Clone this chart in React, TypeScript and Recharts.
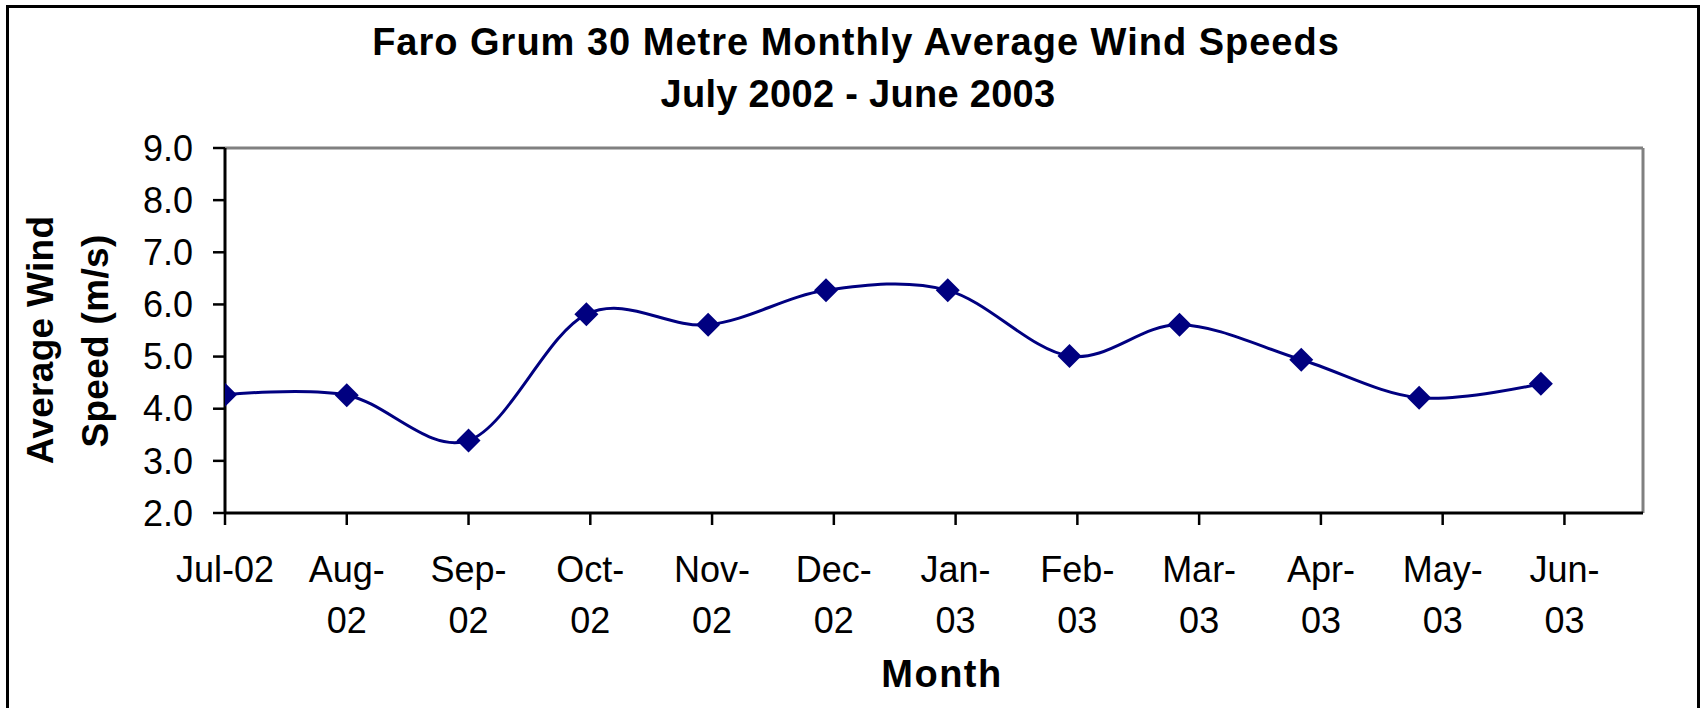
import React from 'react';
import { LineChart, Line, XAxis, YAxis, ReferenceLine } from 'recharts';

// Data: day offset from 1 July 2002 of each monthly average, and the average speed (m/s)
const monthStartDays = [0, 31, 62, 92, 123, 153, 184, 215, 243, 274, 304, 335];
const windSpeeds = [4.27, 4.26, 3.39, 5.81, 5.61, 6.27, 6.27, 5.01, 5.61, 4.94, 4.21, 4.48];

// Axis ticks (date axis with a 31-day major unit)
const tickDays = [0, 31, 62, 93, 124, 155, 186, 217, 248, 279, 310, 341];
const tickLabels = ['Jul-02', 'Aug-02', 'Sep-02', 'Oct-02', 'Nov-02', 'Dec-02', 'Jan-03', 'Feb-03', 'Mar-03', 'Apr-03', 'May-03', 'Jun-03'];
const yTicks = [2, 3, 4, 5, 6, 7, 8, 9];
const xDomain = [0, 361];
const yDomain = [2, 9];

const titleLines = ['Faro Grum 30 Metre Monthly Average Wind Speeds', 'July 2002 - June 2003'];
const yTitleLines = ['Average Wind', 'Speed (m/s)'];
const xTitle = 'Month';

const data = monthStartDays.map((d, i) => ({ day: d, speed: windSpeeds[i] }));

const FONT = '"Liberation Sans", Arial, Helvetica, sans-serif';
const NAVY = '#000080';

// Excel-like smoothing (uniform Catmull-Rom / cardinal spline, tension 0)
function excelSmooth(context: any) {
  const k = 1 / 6;
  let x0 = NaN, y0 = NaN, x1 = NaN, y1 = NaN, x2 = NaN, y2 = NaN;
  let pt = 0;
  let line: number = NaN;
  const bez = (x: number, y: number) => {
    context.bezierCurveTo(
      x1 + k * (x2 - x0),
      y1 + k * (y2 - y0),
      x2 + k * (x1 - x),
      y2 + k * (y1 - y),
      x2,
      y2
    );
  };
  return {
    areaStart() { line = 0; },
    areaEnd() { line = NaN; },
    lineStart() { x0 = x1 = x2 = y0 = y1 = y2 = NaN; pt = 0; },
    lineEnd() {
      switch (pt) {
        case 2: context.lineTo(x2, y2); break;
        case 3: bez(x1, y1); break;
      }
      if (line || (line !== 0 && pt === 1)) context.closePath();
      line = 1 - line;
    },
    point(xIn: number, yIn: number) {
      const x = +xIn, y = +yIn;
      switch (pt) {
        case 0: pt = 1; if (line) context.lineTo(x, y); else context.moveTo(x, y); break;
        case 1: pt = 2; x1 = x; y1 = y; break;
        case 2: pt = 3; bez(x, y); break;
        default: bez(x, y); break;
      }
      x0 = x1; x1 = x2; x2 = x;
      y0 = y1; y1 = y2; y2 = y;
    },
  };
}

const Diamond = (props: any) => {
  const { cx, cy } = props;
  if (cx == null || cy == null) return null;
  const r = 12;
  return (
    <polygon
      points={`${cx},${cy - r} ${cx + r},${cy} ${cx},${cy + r} ${cx - r},${cy}`}
      fill={NAVY}
      stroke="none"
    />
  );
};

const XTick = (props: any) => {
  const { x, y, payload } = props;
  const idx = tickDays.indexOf(payload.value);
  const label = tickLabels[idx] ?? '';
  const dash = label.indexOf('-');
  const parts = idx === 0 ? [label] : [label.slice(0, dash + 1), label.slice(dash + 1)];
  return (
    <g>
      {parts.map((p, i) => (
        <text
          key={i}
          x={x}
          y={y + 57 + i * 51}
          textAnchor="middle"
          fill="#000"
          fontSize={36}
          fontFamily={FONT}
        >
          {p}
        </text>
      ))}
    </g>
  );
};

export default function App() {
  return (
    <div
      style={{
        position: 'absolute',
        left: 0,
        top: 0,
        width: 1705,
        height: 708,
        overflow: 'hidden',
        background: '#fff',
      }}
    >
      <div
        style={{
          position: 'absolute',
          left: 6,
          top: 5,
          width: 1694,
          height: 800,
          border: '3px solid #000',
          boxSizing: 'border-box',
        }}
      />
      <div style={{ position: 'absolute', left: 0, top: 0 }}>
        <LineChart
          width={1705}
          height={708}
          data={data}
          margin={{ top: 148, right: 62, left: 0, bottom: 0 }}
        >
          <ReferenceLine y={9} stroke="#808080" strokeWidth={3} ifOverflow="extendDomain" />
          <ReferenceLine x={361} stroke="#808080" strokeWidth={3} ifOverflow="extendDomain" />
          <XAxis
            dataKey="day"
            type="number"
            domain={xDomain}
            ticks={tickDays}
            interval={0}
            height={195}
            allowDataOverflow
            axisLine={{ stroke: '#000', strokeWidth: 3 }}
            tickLine={{ stroke: '#000', strokeWidth: 2.5 }}
            tickSize={12}
            tickMargin={0}
            tick={<XTick />}
          />
          <YAxis
            type="number"
            domain={yDomain}
            ticks={yTicks}
            interval={0}
            width={225}
            allowDataOverflow
            axisLine={{ stroke: '#000', strokeWidth: 3 }}
            tickLine={{ stroke: '#000', strokeWidth: 2.5 }}
            tickSize={12}
            tickMargin={20}
            tickFormatter={(v: number) => v.toFixed(1)}
            tick={{ fill: '#000', fontSize: 36, fontFamily: FONT }}
          />
          <Line
            dataKey="speed"
            type={excelSmooth as any}
            stroke={NAVY}
            strokeWidth={3}
            dot={<Diamond />}
            activeDot={false}
            isAnimationActive={false}
          />
        </LineChart>
      </div>
      <svg
        width={1705}
        height={708}
        style={{ position: 'absolute', left: 0, top: 0, pointerEvents: 'none' }}
      >
        <text x={856} y={55} textAnchor="middle" fontSize={38} fontWeight="bold" letterSpacing={1} fontFamily={FONT} fill="#000">
          {titleLines[0]}
        </text>
        <text x={858} y={107} textAnchor="middle" fontSize={38} fontWeight="bold" letterSpacing={0.3} fontFamily={FONT} fill="#000">
          {titleLines[1]}
        </text>
        <text x={53} y={340} textAnchor="middle" fontSize={37} fontWeight="bold" letterSpacing={0.3} fontFamily={FONT} fill="#000" transform="rotate(-90 53 340)">
          {yTitleLines[0]}
        </text>
        <text x={108} y={341} textAnchor="middle" fontSize={37} fontWeight="bold" letterSpacing={0.3} fontFamily={FONT} fill="#000" transform="rotate(-90 108 341)">
          {yTitleLines[1]}
        </text>
        <text x={942} y={687} textAnchor="middle" fontSize={38} fontWeight="bold" letterSpacing={1.5} fontFamily={FONT} fill="#000">
          {xTitle}
        </text>
      </svg>
    </div>
  );
}
